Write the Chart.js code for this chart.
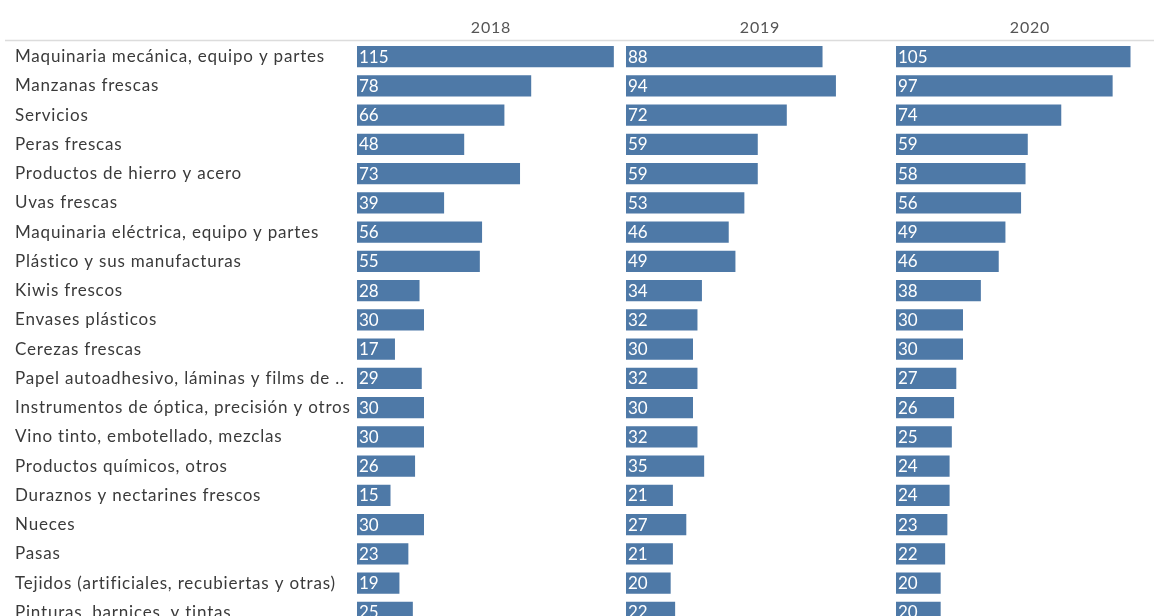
<!DOCTYPE html>
<html>
<head>
<meta charset="utf-8">
<script src="https://cdn.jsdelivr.net/npm/chart.js@4/dist/chart.umd.min.js"></script>
<style>
  html, body { margin: 0; padding: 0; background: #fff; }
  #wrap { position: relative; width: 1154px; height: 616px; overflow: hidden; background: #fff; }
  .panel { position: absolute; top: 0; }
</style>
</head>
<body>
<div id="wrap">
  <div class="panel" style="left:0px;"><canvas id="c0" width="626" height="627"></canvas></div>
  <div class="panel" style="left:626px;"><canvas id="c1" width="270" height="627"></canvas></div>
  <div class="panel" style="left:896px;"><canvas id="c2" width="270" height="627"></canvas></div>
</div>
<script>
const categories = [
  "Maquinaria mecánica, equipo y partes",
  "Manzanas frescas",
  "Servicios",
  "Peras frescas",
  "Productos de hierro y acero",
  "Uvas frescas",
  "Maquinaria eléctrica, equipo y partes",
  "Plástico y sus manufacturas",
  "Kiwis frescos",
  "Envases plásticos",
  "Cerezas frescas",
  "Papel autoadhesivo, láminas y films de ..",
  "Instrumentos de óptica, precisión y otros",
  "Vino tinto, embotellado, mezclas",
  "Productos químicos, otros",
  "Duraznos y nectarines frescos",
  "Nueces",
  "Pasas",
  "Tejidos (artificiales, recubiertas y otras)",
  "Pinturas, barnices, y tintas"
];
const years = ["2018", "2019", "2020"];
const values2018 = [115, 78, 66, 48, 73, 39, 56, 55, 28, 30, 17, 29, 30, 30, 26, 15, 30, 23, 19, 25];
const values2019 = [88, 94, 72, 59, 59, 53, 46, 49, 34, 32, 30, 32, 30, 32, 35, 21, 27, 21, 20, 22];
const values2020 = [105, 97, 74, 59, 58, 56, 49, 46, 38, 30, 30, 27, 26, 25, 24, 24, 23, 22, 20, 20];
const seriesByYear = [values2018, values2019, values2020];
const axisMax = 120;

const FONT = "Lato, 'Open Sans', sans-serif";
const BAR_COLOR = "#4e79a7";

const spacing = {
  id: "spacing",
  beforeDraw(chart) {
    if ("letterSpacing" in chart.ctx) chart.ctx.letterSpacing = "0.8px";
  }
};

const headerLine = {
  id: "headerLine",
  beforeDraw(chart, args, opts) {
    const ctx = chart.ctx;
    const y = chart.chartArea.top - 1.5;
    ctx.save();
    ctx.strokeStyle = "#dcdcdc";
    ctx.lineWidth = 1.5;
    ctx.beginPath();
    ctx.moveTo(opts.startX || 0, y);
    ctx.lineTo(chart.width, y);
    ctx.stroke();
    ctx.restore();
  }
};

const valueLabels = {
  id: "valueLabels",
  afterDatasetsDraw(chart) {
    const ctx = chart.ctx;
    ctx.save();
    if ("letterSpacing" in ctx) ctx.letterSpacing = "0px";
    ctx.fillStyle = "#ffffff";
    ctx.font = "17px " + FONT;
    ctx.textAlign = "left";
    ctx.textBaseline = "middle";
    chart.data.datasets.forEach((ds, di) => {
      const meta = chart.getDatasetMeta(di);
      meta.data.forEach((bar, i) => {
        ctx.fillText(String(ds.data[i]), bar.base + 2, bar.y + 0.5);
      });
    });
    ctx.restore();
  }
};

function makePanel(idx) {
  const first = idx === 0;
  return new Chart(document.getElementById("c" + idx), {
    type: "bar",
    data: {
      labels: categories,
      datasets: [{
        data: seriesByYear[idx],
        backgroundColor: BAR_COLOR,
        borderWidth: 0,
        categoryPercentage: 1,
        barPercentage: 0.735
      }]
    },
    options: {
      indexAxis: "y",
      responsive: false,
      animation: false,
      devicePixelRatio: 1,
      layout: { padding: { left: first ? 15 : 0, right: first ? 1 : 2, top: 0, bottom: 0 } },
      plugins: {
        legend: { display: false },
        tooltip: { enabled: false },
        headerLine: { startX: first ? 5 : 0 }
      },
      scales: {
        x: {
          position: "top",
          min: 0,
          max: axisMax,
          grid: { display: false },
          border: { display: false },
          ticks: { display: false },
          title: {
            display: true,
            text: years[idx],
            color: "#555555",
            font: { family: FONT, size: 16 },
            padding: { top: 18, bottom: 0 }
          },
          afterFit(scale) { scale.height = 42; }
        },
        y: {
          display: first,
          grid: { display: false },
          border: { display: false },
          ticks: {
            crossAlign: "far",
            color: "#3a3a3a",
            font: { family: FONT, size: 17 },
            padding: 0,
            autoSkip: false
          },
          afterFit(scale) {
            if (first) scale.width = 342;
            scale.paddingTop = 0;
            scale.paddingBottom = 0;
          }
        }
      }
    },
    plugins: [spacing, headerLine, valueLabels]
  });
}

[0, 1, 2].forEach(makePanel);
</script>
</body>
</html>
